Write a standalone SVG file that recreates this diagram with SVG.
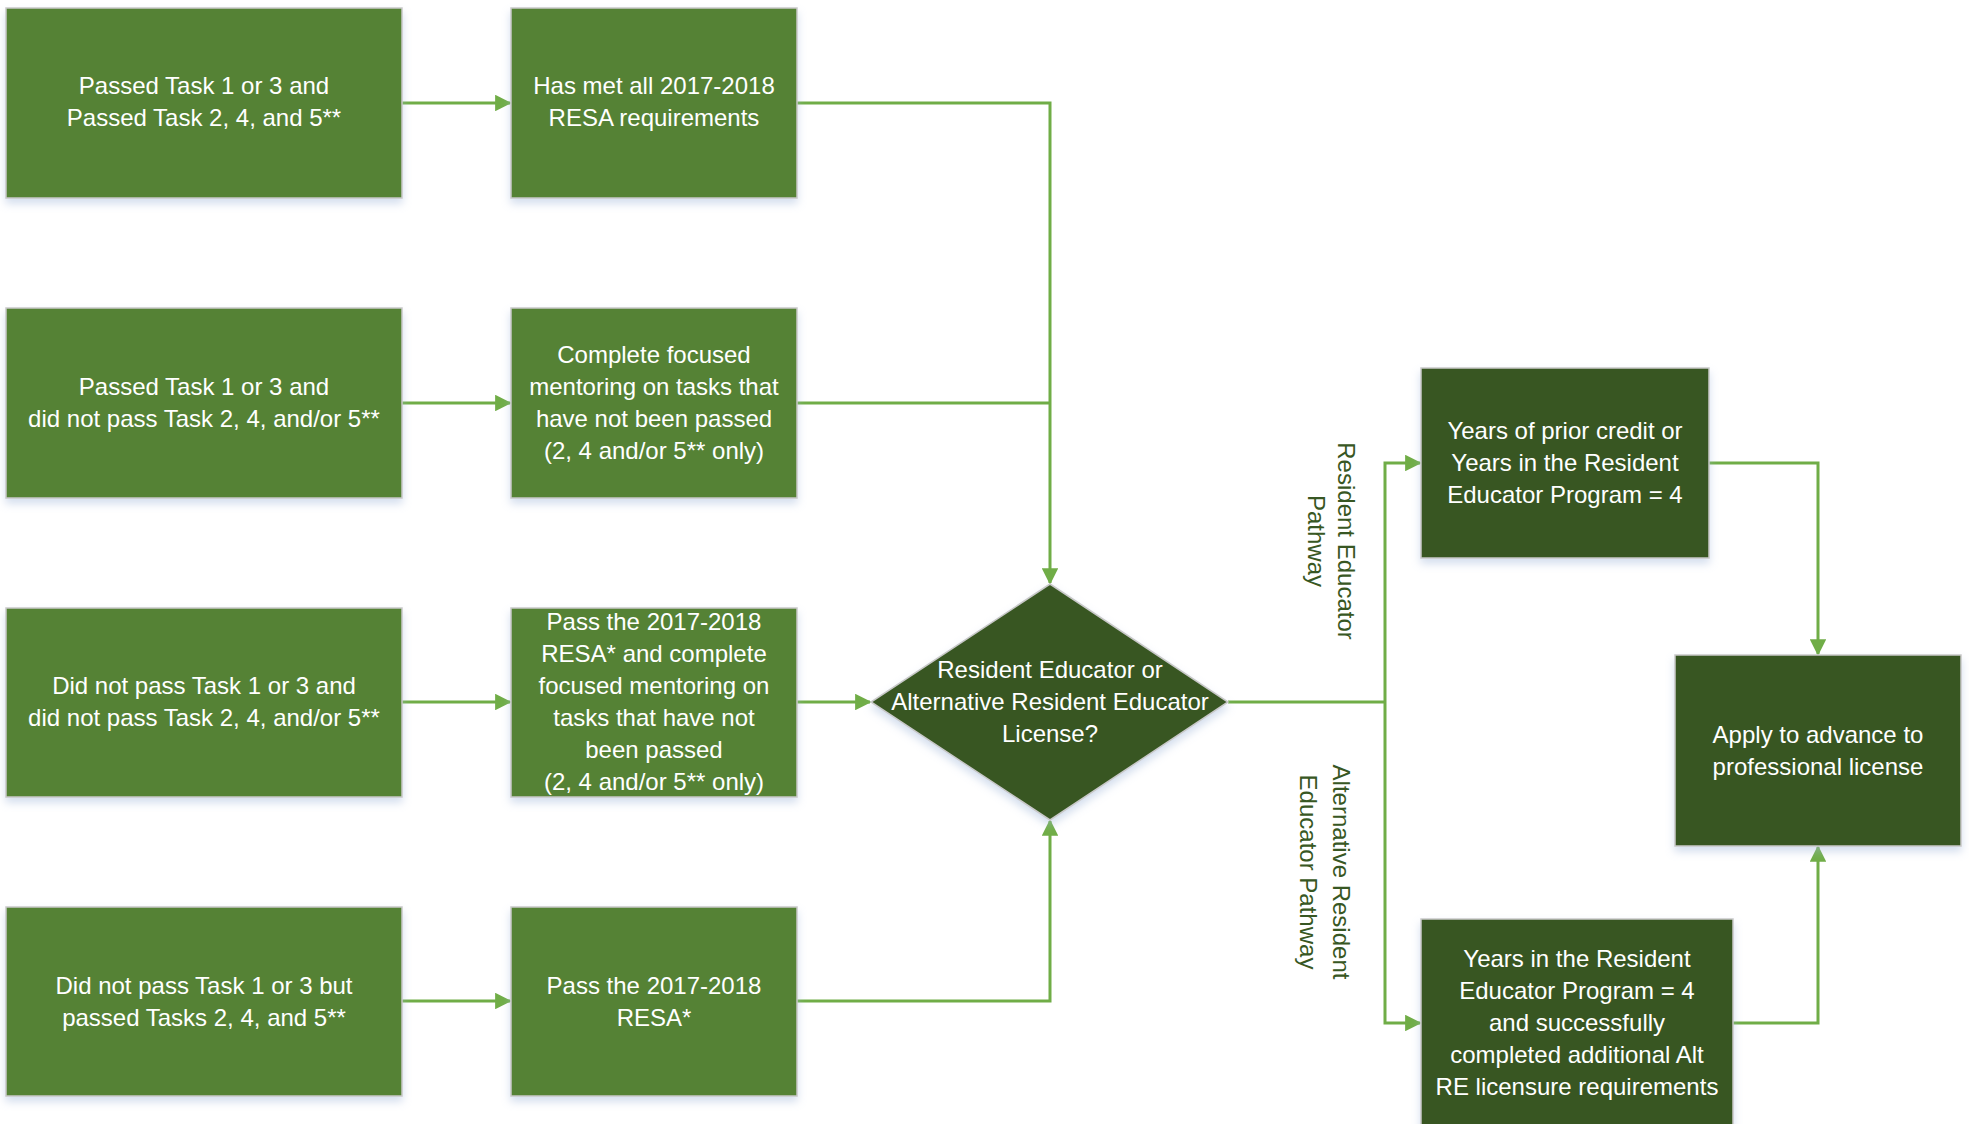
<svg xmlns="http://www.w3.org/2000/svg" width="1969" height="1124" viewBox="0 0 1969 1124">
<defs>
<style>
.bx{fill:#548235;stroke:#c9c9c9;stroke-width:1.5;filter:url(#sh)}
.dk{fill:#385723;stroke:#c9c9c9;stroke-width:1.5;filter:url(#sh)}
.t{font-family:"Liberation Sans",Arial,sans-serif;font-size:24px;fill:#ffffff;text-anchor:middle}
.lb{font-family:"Liberation Sans",Arial,sans-serif;font-size:24px;fill:#385723;text-anchor:middle}
.c{fill:none;stroke:#70ad47;stroke-width:3}
.ca{fill:none;stroke:#70ad47;stroke-width:3;marker-end:url(#ah)}
</style>
<marker id="ah" viewBox="0 0 10 10" refX="9" refY="5" markerWidth="5.5" markerHeight="5.5" orient="auto" markerUnits="strokeWidth">
<path d="M0,0 L10,5 L0,10 z" fill="#70ad47"/>
</marker>
<filter id="sh" x="-10%" y="-10%" width="120%" height="130%">
<feDropShadow dx="0" dy="5" stdDeviation="4" flood-color="#9fb6d9" flood-opacity="0.45"/>
</filter>
</defs>
<rect width="1969" height="1124" fill="#ffffff"/>
<g id="connectors">
<path class="ca" d="M402,103 H510"/>
<path class="ca" d="M402,403 H510"/>
<path class="ca" d="M402,702 H510"/>
<path class="ca" d="M402,1001 H510"/>
<path class="ca" d="M797,103 H1050 V583"/>
<path class="c" d="M797,403 H1050"/>
<path class="ca" d="M797,702 H870"/>
<path class="ca" d="M797,1001 H1050 V821"/>
<path class="c" d="M1228,702 H1385"/>
<path class="ca" d="M1385,702 V463 H1420"/>
<path class="ca" d="M1385,702 V1023 H1420"/>
<path class="ca" d="M1709,463 H1818 V654"/>
<path class="ca" d="M1733,1023 H1818 V847"/>
</g>
<g id="n1"><rect class="bx" x="6" y="8" width="396" height="190"/>
<text class="t" x="204" y="94">Passed Task 1 or 3 and</text>
<text class="t" x="204" y="126">Passed Task 2, 4, and 5**</text></g>
<g id="n2"><rect class="bx" x="511" y="8" width="286" height="190"/>
<text class="t" x="654" y="94">Has met all 2017-2018</text>
<text class="t" x="654" y="126">RESA requirements</text></g>
<g id="n3"><rect class="bx" x="6" y="308" width="396" height="190"/>
<text class="t" x="204" y="395">Passed Task 1 or 3 and</text>
<text class="t" x="204" y="427">did not pass Task 2, 4, and/or 5**</text></g>
<g id="n4"><rect class="bx" x="511" y="308" width="286" height="190"/>
<text class="t" x="654" y="363">Complete focused</text>
<text class="t" x="654" y="395">mentoring on tasks that</text>
<text class="t" x="654" y="427">have not been passed</text>
<text class="t" x="654" y="459">(2, 4 and/or 5** only)</text></g>
<g id="n5"><rect class="bx" x="6" y="608" width="396" height="189"/>
<text class="t" x="204" y="694">Did not pass Task 1 or 3 and</text>
<text class="t" x="204" y="726">did not pass Task 2, 4, and/or 5**</text></g>
<g id="n6"><rect class="bx" x="511" y="608" width="286" height="189"/>
<text class="t" x="654" y="630">Pass the 2017-2018</text>
<text class="t" x="654" y="662">RESA* and complete</text>
<text class="t" x="654" y="694">focused mentoring on</text>
<text class="t" x="654" y="726">tasks that have not</text>
<text class="t" x="654" y="758">been passed</text>
<text class="t" x="654" y="790">(2, 4 and/or 5** only)</text></g>
<g id="n7"><rect class="bx" x="6" y="907" width="396" height="189"/>
<text class="t" x="204" y="994">Did not pass Task 1 or 3 but</text>
<text class="t" x="204" y="1026">passed Tasks 2, 4, and 5**</text></g>
<g id="n8"><rect class="bx" x="511" y="907" width="286" height="189"/>
<text class="t" x="654" y="994">Pass the 2017-2018</text>
<text class="t" x="654" y="1026">RESA*</text></g>
<g id="n9"><path class="dk" d="M1050,584 L1228,702 L1050,820 L871,702 Z"/>
<text class="t" x="1050" y="678">Resident Educator or</text>
<text class="t" x="1050" y="710">Alternative Resident Educator</text>
<text class="t" x="1050" y="742">License?</text></g>
<g id="n10"><rect class="dk" x="1421" y="368" width="288" height="190"/>
<text class="t" x="1565" y="439">Years of prior credit or</text>
<text class="t" x="1565" y="471">Years in the Resident</text>
<text class="t" x="1565" y="503">Educator Program = 4</text></g>
<g id="n11"><rect class="dk" x="1675" y="655" width="286" height="191"/>
<text class="t" x="1818" y="743">Apply to advance to</text>
<text class="t" x="1818" y="775">professional license</text></g>
<g id="n12"><rect class="dk" x="1421" y="919" width="312" height="210"/>
<text class="t" x="1577" y="967">Years in the Resident</text>
<text class="t" x="1577" y="999">Educator Program = 4</text>
<text class="t" x="1577" y="1031">and successfully</text>
<text class="t" x="1577" y="1063">completed additional Alt</text>
<text class="t" x="1577" y="1095">RE licensure requirements</text></g>
<g id="labels">
<g transform="translate(1331,541) rotate(90)">
<text class="lb" x="0" y="-7">Resident Educator</text>
<text class="lb" x="0" y="23">Pathway</text></g>
<g transform="translate(1325,872) rotate(90)">
<text class="lb" x="0" y="-8">Alternative Resident</text>
<text class="lb" x="0" y="25">Educator Pathway</text></g>
</g>
</svg>
